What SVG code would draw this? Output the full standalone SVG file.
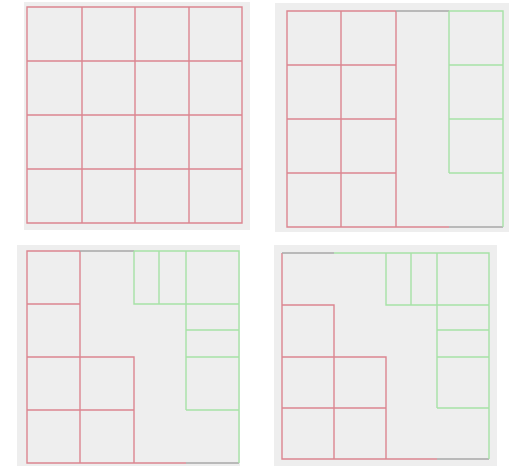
<svg xmlns="http://www.w3.org/2000/svg" width="514" height="466" viewBox="0 0 514 466">
<style>
.bg{fill:#eeeeee;stroke:none}
.r{stroke:#dc8590;stroke-width:1.4;fill:none}
.g{stroke:#a6e2a6;stroke-width:1.4;fill:none}
.k{stroke:#a8a8a8;stroke-width:1.6;fill:none}
</style>
<rect width="514" height="466" fill="#ffffff"/>
<g id="panel1">
<rect class="bg" x="24" y="2" width="226" height="228"/>
<path class="r" d="M27 7H242V223H27Z M82 7V223 M135 7V223 M189 7V223 M27 61H242 M27 115H242 M27 169H242"/>
</g>
<g id="panel2">
<rect class="bg" x="275" y="3" width="234" height="229"/>
<path class="r" d="M396 11H287V227H449 M341 11V227 M396 11V227 M287 65H396 M287 119H396 M287 173H396"/>
<path class="k" d="M396 11H449 M449 227H503"/>
<path class="g" d="M449 11H503V227 M449 11V173 M449 65H503 M449 119H503 M449 173H503"/>
</g>
<g id="panel3">
<rect class="bg" x="17" y="245" width="223" height="221"/>
<path class="r" d="M80 251H27V463H186 M80 251V463 M27 304H80 M27 357H134V463 M27 410H134"/>
<path class="k" d="M80 251H134 M186 463H239"/>
<path class="g" d="M134 251H239V463 M134 251V304H239 M159 251V304 M186 251V410 M186 330H239 M186 357H239 M186 410H239"/>
</g>
<g id="panel4">
<rect class="bg" x="274" y="245" width="223" height="221"/>
<path class="r" d="M282 253V459H437 M282 305H334V459 M282 357H386V459 M282 408H386"/>
<path class="k" d="M282 253H334 M437 459H489"/>
<path class="g" d="M334 253H489V459 M386 253V305H489 M411 253V305 M437 253V408 M437 330H489 M437 357H489 M437 408H489"/>
</g>
</svg>
